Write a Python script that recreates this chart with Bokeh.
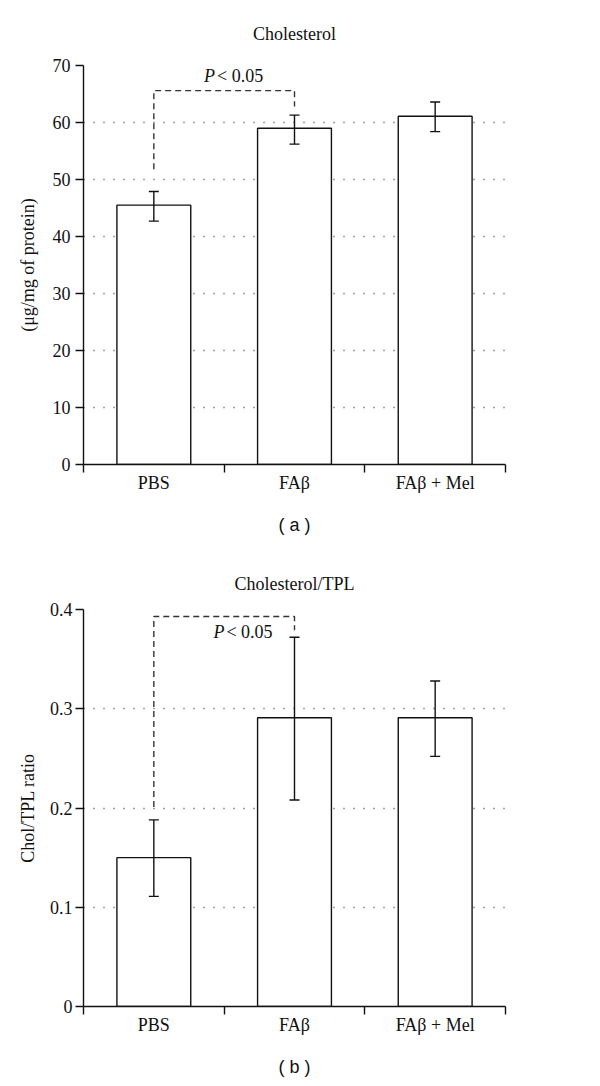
from bokeh.plotting import figure
from bokeh.models import FixedTicker, Whisker, ColumnDataSource, Label, TeeHead, Range1d, Title
from bokeh.layouts import column
from bokeh.embed import file_html
from bokeh.resources import INLINE

# ---- data ----
categories = ["PBS", "FA\u03b2", "FA\u03b2 + Mel"]

chol_mean = [45.5, 59.0, 61.1]
chol_lower = [42.7, 56.2, 58.4]
chol_upper = [47.9, 61.3, 63.6]
chol_ticks = [0, 10, 20, 30, 40, 50, 60, 70]
chol_bracket = [51.8, 65.6, 65.6, 62.8]

ratio_mean = [0.150, 0.291, 0.291]
ratio_lower = [0.111, 0.208, 0.252]
ratio_upper = [0.188, 0.372, 0.328]
ratio_ticks = [0, 0.1, 0.2, 0.3, 0.4]
ratio_bracket = [0.201, 0.393, 0.393, 0.379]

SERIF = "Liberation Serif"
SANS = "Liberation Sans"
INK = "#111111"
FS = "18px"


def panel(title, ylabel, means, lower, upper, ticks, bracket, ptext_xy,
          caption, borders, ylab_standoff, tick_standoff, title_standoff):
    left, right, top, bottom = borders
    n = len(categories)
    xs = [i + 0.5 for i in range(n)]
    p = figure(width=600, height=543, output_backend="svg", toolbar_location=None,
               x_range=Range1d(0, n), y_range=Range1d(ticks[0], ticks[-1]),
               min_border_left=left, min_border_right=right,
               min_border_top=top, min_border_bottom=bottom)
    p.outline_line_color = None
    p.background_fill_color = "white"
    p.border_fill_color = "white"
    p.xgrid.visible = False

    src = ColumnDataSource(dict(x=xs, top=means, lo=lower, hi=upper))
    p.vbar(x="x", top="top", bottom=0, width=0.525, source=src,
           fill_color="white", line_color=INK, line_width=1.4)
    w = Whisker(base="x", upper="hi", lower="lo", source=src, level="overlay",
                line_color=INK, line_width=1.4,
                upper_head=TeeHead(size=10, line_color=INK, line_width=1.4),
                lower_head=TeeHead(size=10, line_color=INK, line_width=1.4))
    p.add_layout(w)

    # significance bracket between first two groups
    p.line([xs[0], xs[0], xs[1], xs[1]], bracket, line_dash="6 4",
           line_color="#333333", line_width=1.4)

    # y axis
    ya = p.yaxis[0]
    ya.ticker = FixedTicker(ticks=ticks, minor_ticks=[])
    ya.major_label_overrides = {0: "0"}
    ya.major_tick_out = 8
    ya.major_tick_in = 0
    ya.minor_tick_out = 0
    ya.minor_tick_in = 0
    ya.axis_line_color = INK
    ya.axis_line_width = 1.4
    ya.major_tick_line_width = 1.4
    ya.major_tick_line_color = INK
    ya.major_label_standoff = tick_standoff
    ya.major_label_text_font = SERIF
    ya.major_label_text_font_size = FS
    ya.major_label_text_color = INK
    ya.axis_label = ylabel
    ya.axis_label_text_font = SERIF
    ya.axis_label_text_font_style = "normal"
    ya.axis_label_text_font_size = FS
    ya.axis_label_text_color = INK
    ya.axis_label_standoff = ylab_standoff

    p.ygrid.ticker = FixedTicker(ticks=ticks[1:])
    p.ygrid.grid_line_dash = "1 9"
    p.ygrid.grid_line_color = "#444444"
    p.ygrid.grid_line_width = 1.5

    # x axis: ticks at category boundaries, labels at centres
    xa = p.xaxis[0]
    xa.ticker = FixedTicker(ticks=xs, minor_ticks=list(range(n + 1)))
    xa.major_label_overrides = {float(x): c for x, c in zip(xs, categories)}
    xa.major_tick_line_color = None
    xa.major_tick_out = 8
    xa.major_tick_in = 0
    xa.minor_tick_out = 8
    xa.minor_tick_in = 0
    xa.minor_tick_line_color = INK
    xa.minor_tick_line_width = 1.4
    xa.axis_line_color = INK
    xa.axis_line_width = 1.4
    xa.major_label_standoff = 0
    xa.major_label_text_font = SERIF
    xa.major_label_text_font_size = FS
    xa.major_label_text_color = INK
    # caption as the x-axis label
    xa.axis_label = "( " + caption + " )"
    xa.axis_label_text_font = SANS
    xa.axis_label_text_font_style = "normal"
    xa.axis_label_text_font_size = FS
    xa.axis_label_text_color = INK
    xa.axis_label_standoff = 19

    # title
    t = Title(text=title, align="center", text_font=SERIF, text_font_size=FS,
              text_font_style="normal", text_color=INK, standoff=title_standoff)
    p.add_layout(t, "above")

    # P < 0.05
    px, py = ptext_xy
    p.add_layout(Label(x=px, y=py, x_offset=-31, text="P", text_align="left",
                       text_baseline="middle", text_font=SERIF,
                       text_font_style="italic", text_font_size=FS,
                       text_color=INK))
    p.add_layout(Label(x=px, y=py, x_offset=-18, text="< 0.05", text_align="left",
                       text_baseline="middle", text_font=SERIF,
                       text_font_size=FS, text_color=INK))
    return p


pa = panel("Cholesterol", "(\u03bcg/mg of protein)", chol_mean, chol_lower,
           chol_upper, chol_ticks, chol_bracket, (1.077, 68.1), "a",
           (76, 95, 64, 79), 12, 5, 43)
pb = panel("Cholesterol/TPL", "Chol/TPL ratio", ratio_mean, ratio_lower,
           ratio_upper, ratio_ticks, ratio_bracket, (1.144, 0.377), "b",
           (83, 95, 66, 80), 9, 3, 32)

layout = column(pa, pb, spacing=0)
open("out.html", "w").write(file_html(layout, INLINE))
